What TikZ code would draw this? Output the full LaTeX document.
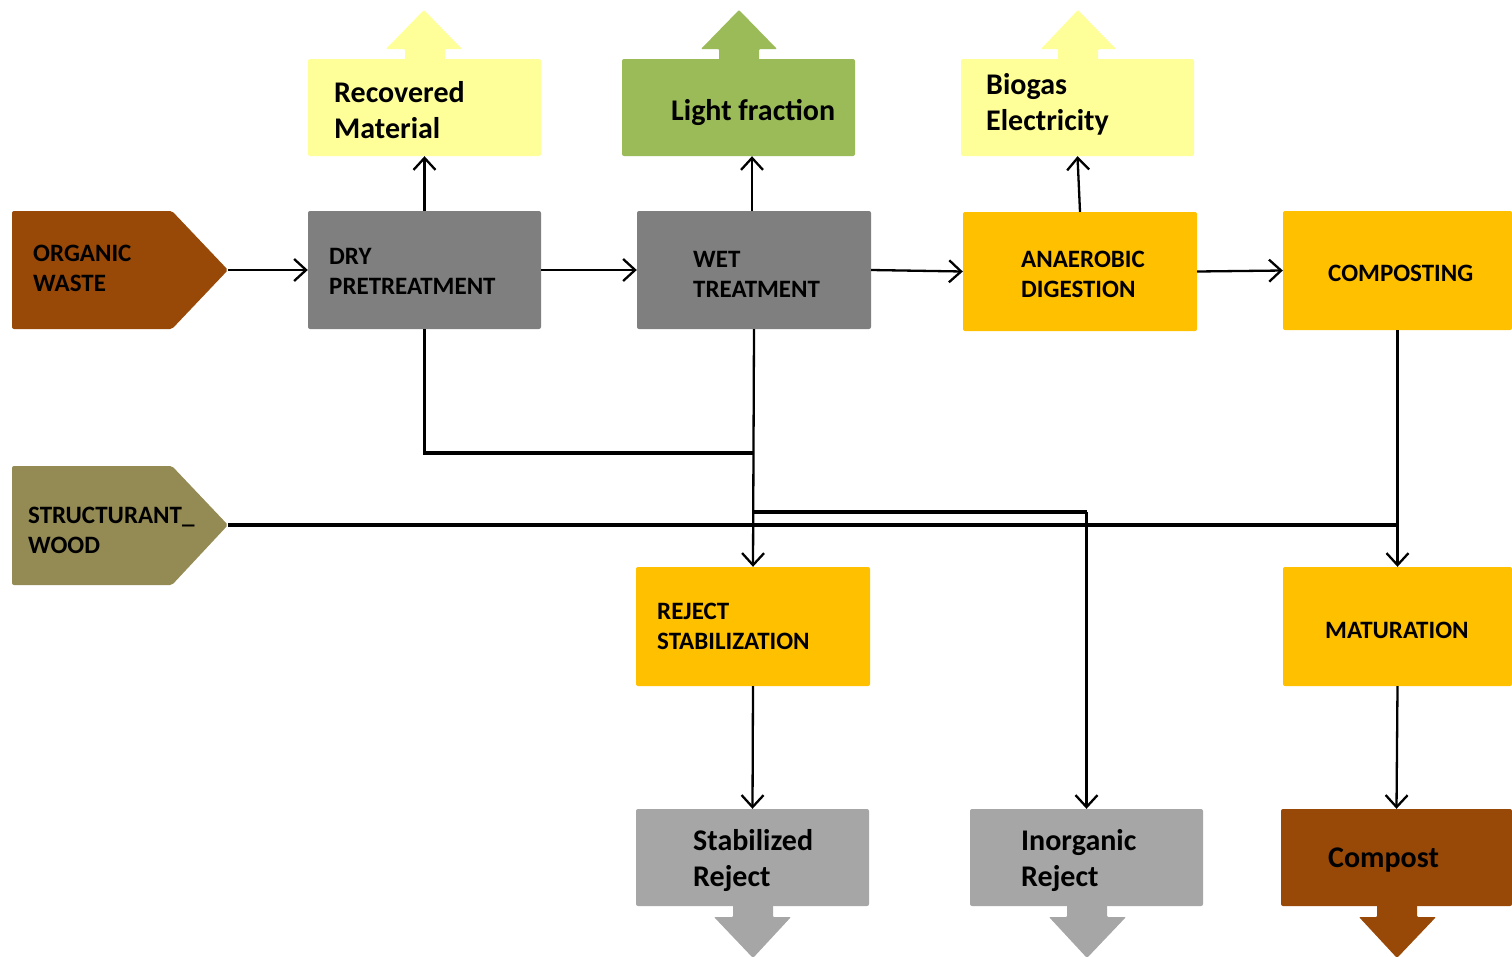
\documentclass[tikz,border=0pt]{standalone}
\usepackage{fontspec}
\setmainfont{Carlito}
\usetikzlibrary{arrows.meta}
\definecolor{brownc}{HTML}{984807}
\definecolor{darkgrayc}{HTML}{7F7F7F}
\definecolor{lightgrayc}{HTML}{A6A6A6}
\definecolor{yellowc}{HTML}{FFFF99}
\definecolor{greenc}{HTML}{9BBB59}
\definecolor{amberc}{HTML}{FFC000}
\definecolor{olivec}{HTML}{948A54}
\begin{document}
\begin{tikzpicture}[x=1pt,y=-1pt,
  box/.style={draw=none, rounded corners=2pt, inner sep=0pt},
  conn/.style={line width=2.3pt, -{Straight Barb[length=12pt,width=22pt,line width=2.3pt]}},
  thickline/.style={line width=3.8pt},
  caps/.style={font=\fontsize{25}{30}\selectfont\bfseries, align=left, inner sep=0pt, anchor=west},
  lower/.style={font=\fontsize{30}{36}\selectfont\bfseries, align=left, inner sep=0pt, anchor=west}]
\useasboundingbox (0,0) rectangle (1512,956);

% fat output arrows
\fill[yellowc, rounded corners=1pt] (405,62)--(405,49)--(386,49)--(424,10)--(462,49)--(445,49)--(445,62)--cycle;
\fill[greenc, rounded corners=1pt] (719,62)--(719,49)--(701,49)--(739,10)--(777,49)--(759,49)--(759,62)--cycle;
\fill[yellowc, rounded corners=1pt] (1058,62)--(1058,49)--(1041,49)--(1078,10)--(1116,49)--(1098,49)--(1098,62)--cycle;
\fill[lightgrayc, rounded corners=1pt] (733,903)--(733,917)--(714,917)--(753,958)--(791,917)--(773,917)--(773,903)--cycle;
\fill[lightgrayc, rounded corners=1pt] (1067,903)--(1067,917)--(1049,917)--(1087,958)--(1126,917)--(1107,917)--(1107,903)--cycle;
\fill[brownc, rounded corners=1pt] (1377,903)--(1377,917)--(1359,917)--(1397,958)--(1436,917)--(1417,917)--(1417,903)--cycle;

% input pentagons
\fill[brownc, rounded corners=2pt] (12,211)--(172,211)--(228,270)--(172,329)--(12,329)--cycle;
\coordinate (owtip) at (228,270);
\node[caps] (owt) at (33,268) {ORGANIC\\WASTE};
\fill[olivec, rounded corners=2pt] (12,466)--(172,466)--(228,525)--(172,585)--(12,585)--cycle;
\coordinate (swtip) at (228,525);
\node[caps] (swt) at (28,530) {STRUCTURANT\_\\WOOD};

% boxes
\node[box, fill=yellowc, minimum width=233pt, minimum height=97pt] (rec) at (424.5,107.5) {};
\node[lower] (rect) at (334,110) {Recovered\\Material};
\node[box, fill=greenc, minimum width=233pt, minimum height=97pt] (lf) at (738.5,107.5) {};
\node[lower] (lft) at (671,112) {Light fraction};
\node[box, fill=yellowc, minimum width=233pt, minimum height=97pt] (bio) at (1077.5,107.5) {};
\node[lower] (biot) at (986,104.5) {Biogas\\Electricity};

\node[box, fill=darkgrayc, minimum width=233pt, minimum height=118pt] (dry) at (424.5,270) {};
\node[caps] (dryt) at (329,271) {DRY\\PRETREATMENT};
\node[box, fill=darkgrayc, minimum width=234pt, minimum height=118pt] (wet) at (754,270) {};
\node[caps] (wett) at (693,274) {WET\\TREATMENT};
\node[box, fill=amberc, minimum width=234pt, minimum height=119pt] (ad) at (1080,271.5) {};
\node[caps] (adt) at (1021,274) {ANAEROBIC\\DIGESTION};
\node[box, fill=amberc, minimum width=229pt, minimum height=119pt] (comp) at (1397.5,270.5) {};
\node[caps] (compt) at (1328,273) {COMPOSTING};

\node[box, fill=amberc, minimum width=234pt, minimum height=119pt] (rs) at (753,626.5) {};
\node[caps] (rst) at (657,626) {REJECT\\STABILIZATION};
\node[box, fill=amberc, minimum width=229pt, minimum height=119pt] (mat) at (1397.5,626.5) {};
\node[caps] (matt) at (1325,630) {MATURATION};

\node[box, fill=lightgrayc, minimum width=233pt, minimum height=97pt] (sr) at (752.5,857.5) {};
\node[lower] (srt) at (693,860) {Stabilized\\Reject};
\node[box, fill=lightgrayc, minimum width=233pt, minimum height=97pt] (ir) at (1086.5,857.5) {};
\node[lower] (irt) at (1021,860) {Inorganic\\Reject};
\node[box, fill=brownc, minimum width=231pt, minimum height=97pt] (cp) at (1396.5,857.5) {};
\node[lower] (cpt) at (1328,860) {Compost};

% connectors
\draw[conn] (owtip) -- (dry.west);
\draw[conn] (dry.east) -- (wet.west);
\draw[conn] (wet.east) -- (ad.west);
\draw[conn] (ad.east) -- (comp.west);
\draw[conn] (dry.north) -- (rec.south);
\draw[conn] (wet.north -| 752,0) -- (lf.south -| 752,0);
\draw[conn] (ad.north) -- (bio.south);
\draw[thickline] (dry.south) |- (753,453);
\draw[conn] (wet.south) -- (rs.north);
\draw[thickline] (swtip) -- (mat.north |- swtip);
\draw[conn] (comp.south) -- (mat.north);
\draw[thickline] (753,512) -- (ir.north |- 0,512);
\draw[conn] (ir.north |- 0,512) -- (ir.north);
\draw[conn] (rs.south) -- (sr.north);
\draw[conn] (mat.south) -- (cp.north);
\end{tikzpicture}
\end{document}
